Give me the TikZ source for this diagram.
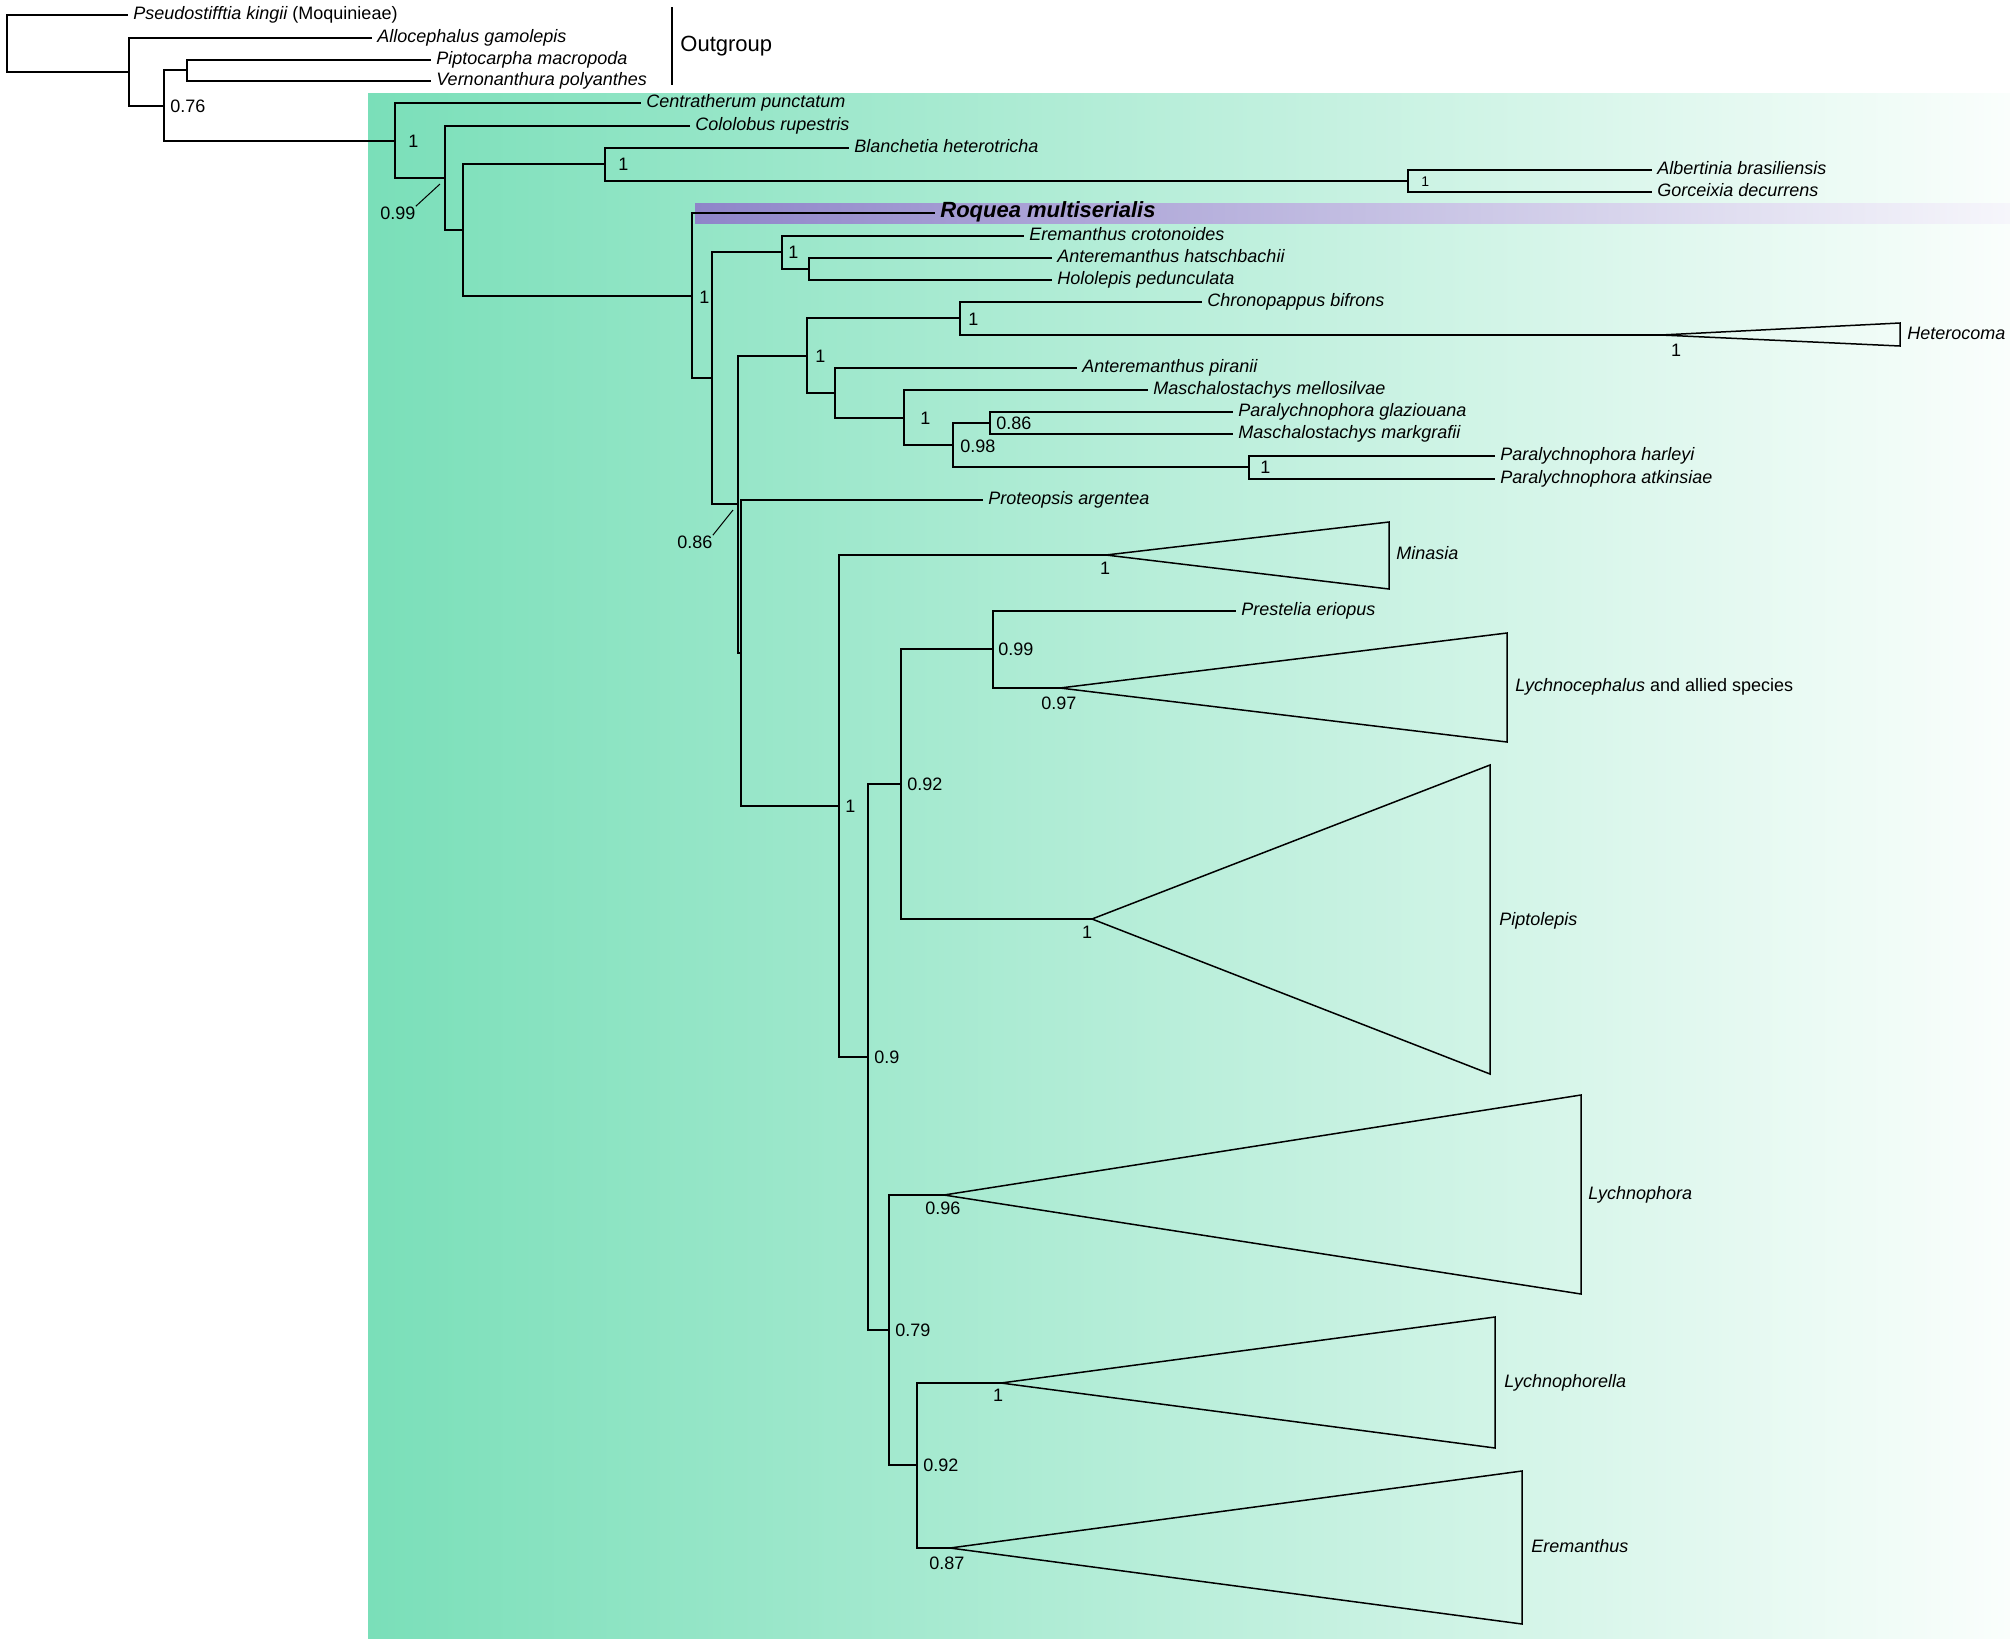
\documentclass[tikz,border=0pt]{standalone}
\usepackage{fontspec}
\setmainfont{Liberation Sans}
\usepackage{xcolor}
\usepackage{tikz}

\definecolor{ingrpL}{RGB}{122,223,185}
\definecolor{ingrpR}{RGB}{250,254,252}
\definecolor{roqL}{RGB}{143,133,201}
\definecolor{roqR}{RGB}{246,246,251}

\begin{document}
\begin{tikzpicture}[x=0.5pt, y=-0.5pt,
  branch/.style={draw, line width=0.75pt},
  leader/.style={draw, line width=0.5pt},
  taxon/.style={anchor=west, inner sep=2.5pt, text height=7pt, text depth=2.4pt, font=\fontsize{9}{10}\selectfont\itshape},
  pp/.style={anchor=west, inner sep=0pt, font=\fontsize{9}{10}\selectfont},
  ppc/.style={inner sep=0pt, font=\fontsize{9}{10}\selectfont}]

  \useasboundingbox (0,0) rectangle (2010,1645);

  % Backgrounds: ingroup box and Roquea highlight
  \shade[left color=ingrpL, right color=ingrpR] (368,93) rectangle (2010,1638);
  \shade[left color=roqL, right color=roqR] (695,203) rectangle (2010,223);

  % Internal nodes
  \coordinate (r0) at (7,43);
  \coordinate (n1) at (129,72);
  \coordinate (n2) at (164,106);
  \coordinate (n3) at (187,70);
  \coordinate (n4) at (395,141);
  \coordinate (n5) at (445,178);
  \coordinate (n6) at (463,230);
  \coordinate (n7) at (605,164);
  \coordinate (n8) at (692,296);
  \coordinate (n9) at (1408,181);
  \coordinate (n10) at (712,378);
  \coordinate (n11) at (782,252);
  \coordinate (n12) at (738,504);
  \coordinate (n13) at (809,269);
  \coordinate (n14) at (807,356);
  \coordinate (n15) at (741,653);
  \coordinate (n16) at (960,318);
  \coordinate (n17) at (835,393);
  \coordinate (n18) at (904,418);
  \coordinate (n19) at (953,445);
  \coordinate (n20) at (990,423);
  \coordinate (n21) at (1249,467);
  \coordinate (n22) at (839,806);
  \coordinate (n23) at (868,1057);
  \coordinate (n24) at (901,784);
  \coordinate (n25) at (889,1330);
  \coordinate (n26) at (993,649);
  \coordinate (n27) at (917,1465);

  % Collapsed clades (apex of each triangle)
  \coordinate (hetA) at (1661,335);
  \coordinate (minA) at (1106,555);
  \coordinate (lycA) at (1060,688);
  \coordinate (pipA) at (1092,919);
  \coordinate (lphA) at (944,1195);
  \coordinate (lllA) at (1001,1383);
  \coordinate (ereA) at (950,1548);

  % Outgroup
  \node [taxon] (pseu) at (128,15) {Pseudostifftia kingii {\upshape (Moquinieae)}};
  \node [taxon] (allo) at (372,38) {Allocephalus gamolepis};
  \node [taxon] (pipt) at (431,60) {Piptocarpha macropoda};
  \node [taxon] (vern) at (431,81) {Vernonanthura polyanthes};
  \coordinate (ogT) at (672,7);
  \coordinate (ogB) at (672,85);
  \node [anchor=west, inner sep=0pt, font=\fontsize{11}{12}\selectfont] (outg) at (680,46) {Outgroup};

  % Ingroup tips
  \node [taxon] (cent) at (641,103) {Centratherum punctatum};
  \node [taxon] (colo) at (690,126) {Cololobus rupestris};
  \node [taxon] (blan) at (849,148) {Blanchetia heterotricha};
  \node [taxon] (albe) at (1652,170) {Albertinia brasiliensis};
  \node [taxon] (gorc) at (1652,192) {Gorceixia decurrens};
  \node [taxon, font=\fontsize{11}{12}\selectfont\bfseries\itshape] (roqu) at (935,213) {Roquea multiserialis};
  \node [taxon] (ecro) at (1024,236) {Eremanthus crotonoides};
  \node [taxon] (ahat) at (1052,258) {Anteremanthus hatschbachii};
  \node [taxon] (hped) at (1052,280) {Hololepis pedunculata};
  \node [taxon] (cbif) at (1202,302) {Chronopappus bifrons};
  \node [taxon] (apir) at (1077,368) {Anteremanthus piranii};
  \node [taxon] (mmel) at (1148,390) {Maschalostachys mellosilvae};
  \node [taxon] (pgla) at (1233,412) {Paralychnophora glaziouana};
  \node [taxon] (mmar) at (1233,434) {Maschalostachys markgrafii};
  \node [taxon] (phar) at (1495,456) {Paralychnophora harleyi};
  \node [taxon] (patk) at (1495,479) {Paralychnophora atkinsiae};
  \node [taxon] (parg) at (983,500) {Proteopsis argentea};
  \node [taxon] (peri) at (1236,611) {Prestelia eriopus};

  % Clade labels
  \node [taxon] (hetL) at (1902,335) {Heterocoma};
  \node [taxon] (minL) at (1391,555) {Minasia};
  \node [taxon] (lycL) at (1510,687) {Lychnocephalus {\upshape and allied species}};
  \node [taxon] (pipL) at (1494,921) {Piptolepis};
  \node [taxon] (lphL) at (1583,1195) {Lychnophora};
  \node [taxon] (lllL) at (1499,1383) {Lychnophorella};
  \node [taxon] (ereL) at (1526,1548) {Eremanthus};

  % Posterior probabilities
  \node [pp] (s076) at (170,106) {0.76};
  \node [pp] (s1a) at (408,141) {1};
  \node [pp] (s099a) at (380,213) {0.99};
  \node [pp] (s1b) at (618,164) {1};
  \node [pp, font=\fontsize{7}{8}\selectfont] (s1c) at (1421,182) {1};
  \node [pp] (s1d) at (699,297) {1};
  \node [pp] (s1e) at (788,252) {1};
  \node [pp] (s1f) at (815,356) {1};
  \node [pp] (s1g) at (968,319) {1};
  \node [ppc] (s1h) at (1676,350) {1};
  \node [pp] (s1i) at (920,418) {1};
  \node [pp] (s098) at (960,446) {0.98};
  \node [pp] (s086a) at (996,423) {0.86};
  \node [pp] (s1j) at (1260,467) {1};
  \node [pp] (s086b) at (677,542) {0.86};
  \node [ppc] (s1k) at (1105,568) {1};
  \node [pp] (s1l) at (845,806) {1};
  \node [pp] (s099b) at (998,649) {0.99};
  \node [pp] (s097) at (1041,703) {0.97};
  \node [pp] (s092a) at (907,784) {0.92};
  \node [ppc] (s1m) at (1087,932) {1};
  \node [pp] (s090) at (874,1057) {0.9};
  \node [pp] (s079) at (895,1330) {0.79};
  \node [pp] (s096) at (925,1208) {0.96};
  \node [pp] (s092b) at (923,1465) {0.92};
  \node [ppc] (s1n) at (998,1395) {1};
  \node [pp] (s087) at (929,1563) {0.87};

  % Leaders
  \coordinate (l099) at (440,184);
  \coordinate (l086) at (733,510);
  \path [leader] (s099a.north east) -- (l099);
  \path [leader] (s086b.north east) -- (l086);
  \path [branch, line width=0.6pt] (ogT) -- (ogB);

  % Branches
  \path [branch] (r0) |- (pseu.west);
  \path [branch] (r0) |- (n1);
  \path [branch] (n1) |- (allo.west);
  \path [branch] (n1) |- (n2);
  \path [branch] (n2) |- (n3);
  \path [branch] (n2) |- (n4);
  \path [branch] (n3) |- (pipt.west);
  \path [branch] (n3) |- (vern.west);
  \path [branch] (n4) |- (cent.west);
  \path [branch] (n4) |- (n5);
  \path [branch] (n5) |- (colo.west);
  \path [branch] (n5) |- (n6);
  \path [branch] (n6) |- (n7);
  \path [branch] (n6) |- (n8);
  \path [branch] (n7) |- (blan.west);
  \path [branch] (n7) |- (n9);
  \path [branch] (n9) |- (albe.west);
  \path [branch] (n9) |- (gorc.west);
  \path [branch] (n8) |- (roqu.west);
  \path [branch] (n8) |- (n10);
  \path [branch] (n10) |- (n11);
  \path [branch] (n10) |- (n12);
  \path [branch] (n11) |- (ecro.west);
  \path [branch] (n11) |- (n13);
  \path [branch] (n13) |- (ahat.west);
  \path [branch] (n13) |- (hped.west);
  \path [branch] (n12) |- (n14);
  \path [branch] (n12) |- (n15);
  \path [branch] (n14) |- (n16);
  \path [branch] (n14) |- (n17);
  \path [branch] (n16) |- (cbif.west);
  \path [branch] (n16) |- (hetA);
  \path [branch] (n17) |- (apir.west);
  \path [branch] (n17) |- (n18);
  \path [branch] (n18) |- (mmel.west);
  \path [branch] (n18) |- (n19);
  \path [branch] (n19) |- (n20);
  \path [branch] (n19) |- (n21);
  \path [branch] (n20) |- (pgla.west);
  \path [branch] (n20) |- (mmar.west);
  \path [branch] (n21) |- (phar.west);
  \path [branch] (n21) |- (patk.west);
  \path [branch] (n15) |- (parg.west);
  \path [branch] (n15) |- (n22);
  \path [branch] (n22) |- (minA);
  \path [branch] (n22) |- (n23);
  \path [branch] (n23) |- (n24);
  \path [branch] (n23) |- (n25);
  \path [branch] (n24) |- (n26);
  \path [branch] (n24) |- (pipA);
  \path [branch] (n26) |- (peri.west);
  \path [branch] (n26) |- (lycA);
  \path [branch] (n25) |- (lphA);
  \path [branch] (n25) |- (n27);
  \path [branch] (n27) |- (lllA);
  \path [branch] (n27) |- (ereA);

  % Triangles
  \path [branch] (hetA) -- (1900,323) -- (1900,346) -- cycle;
  \path [branch] (minA) -- (1389,522) -- (1389,589) -- cycle;
  \path [branch] (lycA) -- (1507,633) -- (1507,742) -- cycle;
  \path [branch] (pipA) -- (1490,765) -- (1490,1074) -- cycle;
  \path [branch] (lphA) -- (1581,1095) -- (1581,1294) -- cycle;
  \path [branch] (lllA) -- (1495,1317) -- (1495,1448) -- cycle;
  \path [branch] (ereA) -- (1522,1471) -- (1522,1624) -- cycle;
\end{tikzpicture}
\end{document}
